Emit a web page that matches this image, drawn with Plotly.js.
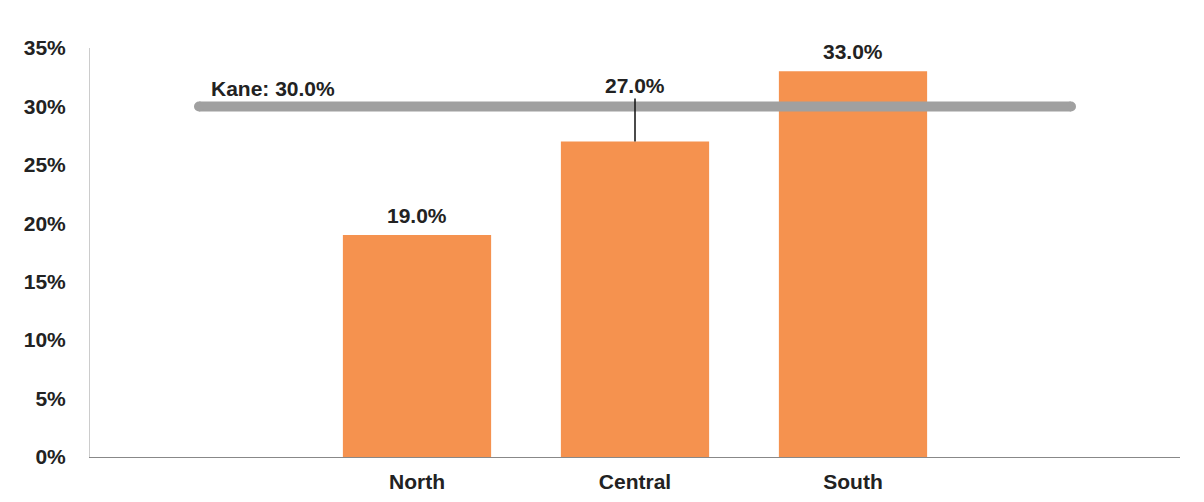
<!DOCTYPE html>
<html>
<head>
<meta charset="utf-8">
<script src="https://cdn.plot.ly/plotly-3.0.1.min.js"></script>
<style>html,body{margin:0;padding:0;background:#fff;}#chart{width:1204px;height:502px;}</style>
</head>
<body>
<div id="chart"></div>
<script>
// Data
const slots = ["", "North", "Central", "South", ""];
const regions = ["North", "Central", "South"];
const regionValues = [19.0, 27.0, 33.0];
const kaneValue = 30.0;
const kaneLabel = "Kane";
const yTickVals = [0, 5, 10, 15, 20, 25, 30, 35];
const yTickText = ["0%", "5%", "10%", "15%", "20%", "25%", "30%", "35%"];

const slotIdx = slots.map((_, i) => i);
const barX = regions.map(r => slots.indexOf(r));
const fontFam = "Liberation Sans, Arial, sans-serif";

const traces = [
  {
    type: "bar",
    x: barX,
    y: regionValues,
    width: 0.68,
    marker: {color: "#F5924F", line: {width: 0}},
    hoverinfo: "skip"
  },
  {
    type: "scatter",
    mode: "lines+markers",
    x: [slotIdx[0], slotIdx[slotIdx.length - 1]],
    y: [kaneValue, kaneValue],
    line: {color: "#A0A0A0", width: 10},
    marker: {color: "#A0A0A0", size: 10},
    hoverinfo: "skip"
  }
];

const annotations = regions.map((r, i) => {
  const isCentral = r === "Central";
  return {
    x: barX[i], y: regionValues[i], xref: "x", yref: "y",
    text: "<b>" + regionValues[i].toFixed(1) + "%</b>",
    font: {family: fontFam, size: 21, color: "#222"},
    showarrow: isCentral,
    arrowhead: 0, arrowwidth: 1.5, arrowcolor: "#111",
    ax: 0, ay: isCentral ? -56 : 0,
    yanchor: isCentral ? "middle" : "bottom",
    yshift: isCentral ? 0 : 6
  };
});
annotations.push({
  x: slotIdx[0], y: kaneValue, xref: "x", yref: "y",
  text: "<b>" + kaneLabel + ": " + kaneValue.toFixed(1) + "%</b>",
  font: {family: fontFam, size: 21, color: "#222"},
  showarrow: false, xanchor: "left", yanchor: "bottom",
  xshift: 10, yshift: 4
});

const layout = {
  width: 1204, height: 502,
  margin: {l: 90, r: 24, t: 48, b: 45},
  paper_bgcolor: "#fff", plot_bgcolor: "#fff",
  showlegend: false,
  bargap: 0.32,
  font: {family: fontFam, color: "#222"},
  xaxis: {
    range: [-0.5, slots.length - 0.5],
    tickvals: slotIdx,
    ticktext: slots.map(s => "<b>" + s + "</b>"),
    tickfont: {family: fontFam, size: 21, color: "#222"},
    showgrid: false, zeroline: false,
    showline: true, linecolor: "#888", linewidth: 1,
    ticks: "outside", ticklen: 6, tickcolor: "rgba(0,0,0,0)"
  },
  yaxis: {
    range: [0, 35],
    tickvals: yTickVals,
    ticktext: yTickText.map(t => "<b>" + t + "</b>"),
    tickfont: {family: fontFam, size: 21, color: "#222"},
    showgrid: false, zeroline: false,
    showline: true, linecolor: "#ccc", linewidth: 1,
    ticks: "", ticklabelstandoff: 19
  },
  annotations: annotations
};

Plotly.newPlot("chart", traces, layout, {staticPlot: true, displayModeBar: false});
</script>
</body>
</html>
